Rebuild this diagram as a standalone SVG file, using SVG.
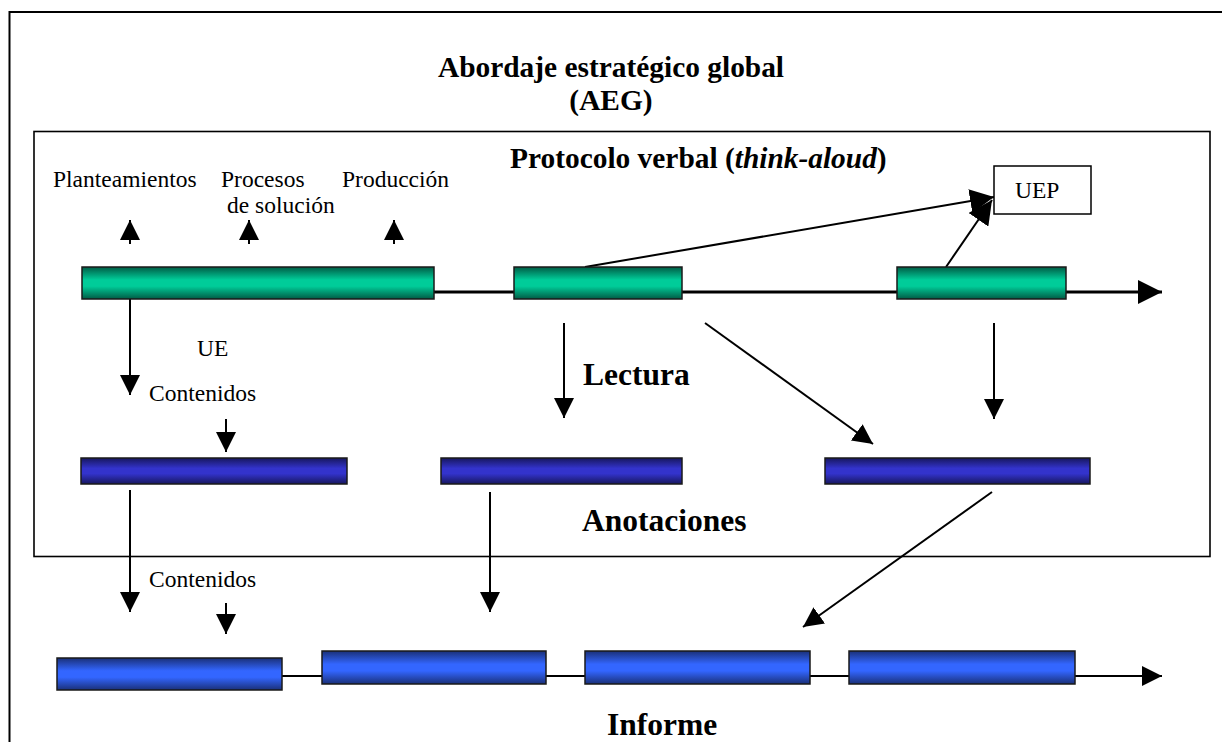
<svg xmlns="http://www.w3.org/2000/svg" width="1222" height="742" viewBox="0 0 1222 742">
  <defs>
    <linearGradient id="gGreen" x1="0" y1="0" x2="0" y2="1">
      <stop offset="0" stop-color="#005c45"/>
      <stop offset="0.4" stop-color="#00cc99"/>
      <stop offset="0.6" stop-color="#00cc99"/>
      <stop offset="1" stop-color="#005c45"/>
    </linearGradient>
    <linearGradient id="gNavy" x1="0" y1="0" x2="0" y2="1">
      <stop offset="0" stop-color="#17175e"/>
      <stop offset="0.4" stop-color="#3333cc"/>
      <stop offset="0.6" stop-color="#3333cc"/>
      <stop offset="1" stop-color="#17175e"/>
    </linearGradient>
    <linearGradient id="gBlue" x1="0" y1="0" x2="0" y2="1">
      <stop offset="0" stop-color="#1a3078"/>
      <stop offset="0.4" stop-color="#3366ff"/>
      <stop offset="0.6" stop-color="#3366ff"/>
      <stop offset="1" stop-color="#1a3078"/>
    </linearGradient>
    <marker id="ah" markerUnits="userSpaceOnUse" markerWidth="20" markerHeight="20" refX="20" refY="10" orient="auto">
      <path d="M0,0 L20,10 L0,20 z" fill="#000"/>
    </marker>
    <marker id="ahL" markerUnits="userSpaceOnUse" markerWidth="24" markerHeight="24" refX="24" refY="12" orient="auto">
      <path d="M0,0 L24,12 L0,24 z" fill="#000"/>
    </marker>
  </defs>
  <style>
    .frame { fill: none; stroke: #000; }
    .t { font-family: "Liberation Serif", "Times New Roman", serif; fill: #000; }
    .n { font-size: 23.5px; }
    .b { font-size: 29.4px; font-weight: bold; }
    .h { font-size: 31.5px; font-weight: bold; }
    .bar { stroke: #1a1a1a; stroke-width: 1.5; }
    .green { fill: url(#gGreen); }
    .navy { fill: url(#gNavy); }
    .blue { fill: url(#gBlue); }
    .arr { stroke: #000; stroke-width: 2; fill: none; marker-end: url(#ah); }
    .arrL { stroke: #000; stroke-width: 2; fill: none; marker-end: url(#ahL); }
    .tl { stroke: #000; fill: none; }
  </style>

  <rect width="1222" height="742" fill="#fff"/>

  <!-- outer frame and inner protocol frame -->
  <path class="frame" stroke-width="2" d="M9.5,760 V12 H1240"/>
  <rect class="frame" stroke-width="1.6" x="34" y="131.5" width="1176" height="425"/>

  <!-- headings -->
  <g id="titles">
    <text class="t b" x="611" y="77" text-anchor="middle">Abordaje estratégico global</text>
    <text class="t b" x="611" y="110" text-anchor="middle">(AEG)</text>
    <text class="t b" x="510" y="168">Protocolo verbal (<tspan font-style="italic">think-aloud</tspan>)</text>
  </g>

  <!-- connectors -->
  <g id="connectors">
    <!-- timelines -->
    <path class="tl" stroke-width="3" d="M434,292 H514 M682,292 H897"/>
    <path class="tl" stroke-width="3" d="M1066,292 H1162" marker-end="url(#ahL)"/>
    <path class="tl" stroke-width="2" d="M282,676 H322 M546,676 H585 M810,676 H849"/>
    <path class="tl" stroke-width="2" d="M1075,676 H1162" marker-end="url(#ah)"/>
    <!-- small up arrows -->
    <path class="arr" d="M130,244 V220"/>
    <path class="arr" d="M249,244 V220"/>
    <path class="arr" d="M394,244 V220"/>
    <!-- to UEP -->
    <path class="arrL" d="M585,267 L994,197"/>
    <path class="arrL" d="M946,267 L992,200"/>
    <!-- protocol to annotations -->
    <path class="arr" d="M130,299 V395"/>
    <path class="arr" d="M226,419 V452"/>
    <path class="arr" d="M564,323 V418"/>
    <path class="arr" d="M705,323 L873,444"/>
    <path class="arr" d="M994,323 V419"/>
    <!-- annotations to report -->
    <path class="arr" d="M130,490 V612"/>
    <path class="arr" d="M226,603 V634"/>
    <path class="arr" d="M490,492 V612"/>
    <path class="arr" d="M992,492 L803,627"/>
  </g>

  <!-- protocol segments -->
  <g id="protocol-1"><rect class="bar green" x="82" y="267" width="352" height="32"/></g>
  <g id="protocol-2"><rect class="bar green" x="514" y="267" width="168" height="32"/></g>
  <g id="protocol-3"><rect class="bar green" x="897" y="267" width="169" height="32"/></g>

  <g id="uep">
    <rect x="994" y="166" width="97" height="48" fill="#fff" stroke="#000" stroke-width="1.5"/>
    <text class="t n" x="1015" y="198">UEP</text>
  </g>

  <g id="protocol-labels">
    <text class="t n" x="53" y="187">Planteamientos</text>
    <text class="t n" x="221" y="187">Procesos</text>
    <text class="t n" x="227" y="213">de solución</text>
    <text class="t n" x="342" y="187">Producción</text>
    <text class="t n" x="197" y="356">UE</text>
    <text class="t n" x="149" y="401">Contenidos</text>
    <text class="t h" x="583" y="385">Lectura</text>
  </g>

  <!-- annotation segments -->
  <g id="annotation-1"><rect class="bar navy" x="81" y="458" width="266" height="26"/></g>
  <g id="annotation-2"><rect class="bar navy" x="441" y="458" width="241" height="26"/></g>
  <g id="annotation-3"><rect class="bar navy" x="825" y="458" width="265" height="26"/></g>
  <g id="annotation-label">
    <text class="t h" x="582" y="531">Anotaciones</text>
  </g>

  <!-- report segments -->
  <g id="report-1"><rect class="bar blue" x="57" y="658" width="225" height="32"/></g>
  <g id="report-2"><rect class="bar blue" x="322" y="651" width="224" height="33"/></g>
  <g id="report-3"><rect class="bar blue" x="585" y="651" width="225" height="33"/></g>
  <g id="report-4"><rect class="bar blue" x="849" y="651" width="226" height="33"/></g>
  <g id="report-labels">
    <text class="t n" x="149" y="587">Contenidos</text>
    <text class="t h" x="607" y="735">Informe</text>
  </g>
</svg>
